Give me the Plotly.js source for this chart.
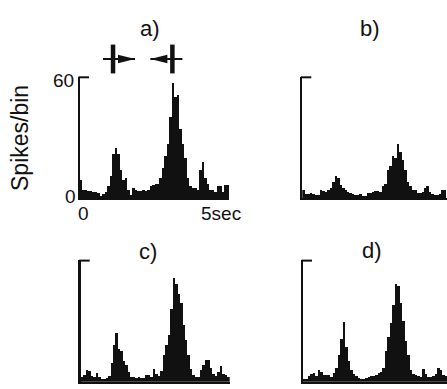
<!DOCTYPE html>
<html>
<head>
<meta charset="utf-8">
<script src="https://cdn.plot.ly/plotly-3.0.1.min.js"></script>
<style>html,body{margin:0;padding:0;background:#fff;}#chart{width:447px;height:389px;}</style>
</head>
<body>
<div id="chart"></div>
<script>
// Spike counts per 0.1 s bin
const binWidthSec = 0.1;
const countsA = [9,4,4,3.5,3.5,3,3,2.5,1,2,3,6,11,22,25,22,14,9,10,4,1.5,5,4,3.5,3.5,4,3.5,4,6,6.5,7,7,10,15,21,27,40,57,50,51,34,27,20,10,6,5,5,4,14,18,10,7,4,4,3,6,6,3,6.5,6.5];
const countsB = [4,2,2,2.5,2,1.5,1.5,4,3.5,3,4,5,8,11,10,6.5,5,4,3,2.5,2,1.5,1.5,2,1.2,1.2,2.5,2.5,3,3.5,3.5,3,6,7,14,16,21,20,27,23,19,14,8,6,4,4,2.5,2.5,3,5,6,3,2,1.5,1.5,2,4,4];
const countsC = [2.5,3.5,6,5.5,3,2.5,4.5,2.5,1.5,1.5,2,3,9,18,24,16,15,10,8,5,2.5,2.5,2,2.5,2,1.8,3.5,3.5,2.5,6.5,4,3,5.5,13,18,23,36,51,48,43,39,28,20.5,13,6.5,3.5,2.5,2.5,6,8,10.5,10.5,7,4,3,5,7.5,4,3.5,2.5];
const countsD = [1.5,1.5,3,4,4.5,3,6,5,3.5,3.5,3.5,2.5,4.5,7,13,21,29.5,17,10,6,4,3,2,1.5,1.5,2,2.5,3,3,3.5,4.5,5,7,15,22,29,38,48,47,39,30,20,13,6,4,3.5,3,2.5,6.5,4,2.5,2.5,3,4,7,6,3.5,3];
const panelLabels = ["a)", "b)", "c)", "d)"];
const yMax = 60;
const stimOn = 1.33, stimOff = 3.72;   // stimulus markers (s)

const centers = arr => arr.map((_, i) => (i + 0.5) * binWidthSec);

const W = 447, H = 389;
const px = v => v / W, py = v => 1 - v / H;
const pxPerSec = 149 / 6;

function bar(counts, xa, ya) {
  return {type: 'bar', x: centers(counts), y: counts, xaxis: xa, yaxis: ya,
    width: binWidthSec, marker: {color: '#111', line: {width: 0}}, hoverinfo: 'skip'};
}
const data = [
  bar(countsA, 'x', 'y'), bar(countsB, 'x2', 'y2'),
  bar(countsC, 'x3', 'y3'), bar(countsD, 'x4', 'y4'),
  {type: 'scatter', x: [], y: [], xaxis: 'x5', yaxis: 'y5'}
];

function xax(d0, d1, anchor) {
  const r1 = (d1 - d0) / pxPerSec;
  return {domain: [px(d0), px(d1)], range: [0, r1], anchor: anchor, showline: true,
    linecolor: '#111', linewidth: 2, showgrid: false, zeroline: false,
    showticklabels: false, ticks: '', fixedrange: true};
}
function yax(top, bottom, anchor) {
  return {domain: [py(bottom), py(top)], range: [0, yMax], anchor: anchor, showline: true,
    linecolor: '#111', linewidth: 2.5, showgrid: false, zeroline: false,
    ticks: '', showticklabels: false, fixedrange: true};
}

const font = {family: 'Liberation Sans, Arial, sans-serif', color: '#111'};
function ann(text, x, y, size, opts) {
  return Object.assign({text: text, x: px(x), y: py(y), xref: 'paper', yref: 'paper',
    xanchor: 'center', yanchor: 'middle',
    showarrow: false, font: Object.assign({}, font, {size: size})}, opts || {});
}

// top-of-scale tick (the "[" bracket) for each panel, drawn in axis-domain units
function topTick(xa, ya, widthPx) {
  return {type: 'line', xref: xa + ' domain', yref: ya + ' domain',
    x0: -0.01, x1: 9 / widthPx, y0: 0.995, y1: 0.995, line: {color: '#111', width: 2}};
}

// Stimulus marker shapes in the marker strip (x5/y5 share panel a's time scale)
const s = 1 / pxPerSec; // seconds per pixel
const shapes = [
  topTick('x', 'y', 149), topTick('x2', 'y2', 144.7), topTick('x3', 'y3', 149), topTick('x4', 'y4', 144),
  {type: 'line', xref: 'x5', yref: 'y5', x0: stimOn - 10 * s, x1: stimOn + 22 * s, y0: 0.5, y1: 0.5, line: {color: '#111', width: 2}},
  {type: 'line', xref: 'x5', yref: 'y5', x0: stimOn, x1: stimOn, y0: 0.02, y1: 0.98, line: {color: '#111', width: 4.5}},
  {type: 'path', xref: 'x5', yref: 'y5', path: `M ${stimOn + 5 * s},0.36 L ${stimOn + 22 * s},0.5 L ${stimOn + 5 * s},0.64 Z`, fillcolor: '#111', line: {width: 0}},
  {type: 'line', xref: 'x5', yref: 'y5', x0: stimOff - 22 * s, x1: stimOff + 10 * s, y0: 0.5, y1: 0.5, line: {color: '#111', width: 2}},
  {type: 'line', xref: 'x5', yref: 'y5', x0: stimOff, x1: stimOff, y0: 0.02, y1: 0.98, line: {color: '#111', width: 4.5}},
  {type: 'path', xref: 'x5', yref: 'y5', path: `M ${stimOff - 5 * s},0.36 L ${stimOff - 22 * s},0.5 L ${stimOff - 5 * s},0.64 Z`, fillcolor: '#111', line: {width: 0}}
];

const layout = {
  width: W, height: H, margin: {l: 0, r: 0, t: 0, b: 0},
  paper_bgcolor: '#fff', plot_bgcolor: 'rgba(0,0,0,0)',
  showlegend: false, bargap: 0,
  xaxis: xax(80, 229, 'y'), yaxis: yax(76.7, 198.3, 'x'),
  xaxis2: xax(302.3, 447, 'y2'), yaxis2: yax(76.7, 198.3, 'x2'),
  xaxis3: xax(80.7, 229.7, 'y3'), yaxis3: yax(260, 381.7, 'x3'),
  xaxis4: xax(303, 447, 'y4'), yaxis4: yax(260, 381.7, 'x4'),
  xaxis5: {domain: [px(80), px(229)], range: [0, 6], anchor: 'y5', visible: false, fixedrange: true},
  yaxis5: {domain: [py(74), py(44)], range: [0, 1], anchor: 'x5', visible: false, fixedrange: true},
  shapes: shapes,
  annotations: [
    ann(panelLabels[0], 150, 28, 22),
    ann(panelLabels[1], 370, 28, 22),
    ann(panelLabels[2], 148, 252, 22),
    ann(panelLabels[3], 372, 250, 22),
    ann(String(yMax), 76, 81, 19, {xanchor: 'right'}),
    ann('0', 78, 196, 19, {xanchor: 'right'}),
    ann('0', 83, 213, 19),
    ann('5sec', 199, 213, 19, {xanchor: 'left'}),
    ann('Spikes/bin', 20, 138, 23, {textangle: -90})
  ]
};

Plotly.newPlot('chart', data, layout, {staticPlot: true, displayModeBar: false});
</script>
</body>
</html>
